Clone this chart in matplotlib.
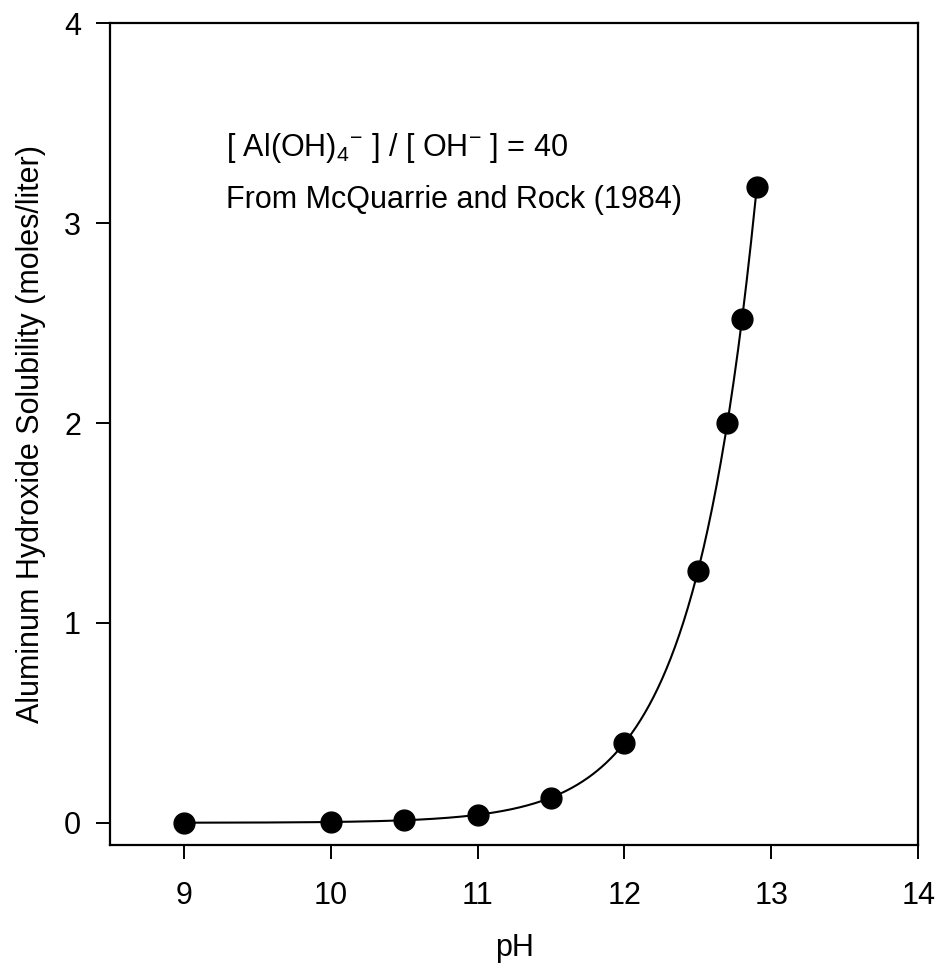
import numpy as np
import matplotlib
matplotlib.use("Agg")
import matplotlib.pyplot as plt

plt.rcParams['font.family'] = ['Liberation Sans', 'DejaVu Sans']
plt.rcParams['mathtext.fontset'] = 'custom'
plt.rcParams['mathtext.rm'] = 'Liberation Sans'
plt.rcParams['mathtext.it'] = 'Liberation Sans'

# Measured solubility values
ph = [9.0, 10.0, 10.5, 11.0, 11.5, 12.0, 12.5, 12.7, 12.8, 12.9]
solubility = [0.0004, 0.004, 0.0126, 0.04, 0.126, 0.40, 1.26, 2.00, 2.52, 3.18]

x_ticks = [9, 10, 11, 12, 13, 14]
y_ticks = [0, 1, 2, 3, 4]

fig = plt.figure(figsize=(9.41, 9.71), dpi=100)
ax = fig.add_axes([0.117, 0.130, 0.859, 0.846])

# Smooth curve: linear in log(solubility) between measured points
xs = np.linspace(ph[0], ph[-1], 400)
ys = 10 ** np.interp(xs, ph, np.log10(solubility))
ax.plot(xs, ys, color='black', lw=1.5, zorder=2)
ax.plot(ph, solubility, 'o', color='black', ms=15, zorder=3)

ax.set_xlim(8.5, 14)
ax.set_ylim(-0.11, 4)
ax.set_xticks(x_ticks)
ax.set_yticks(y_ticks)
ax.tick_params(direction='out', length=10, width=1.4, labelsize=22, colors='black')
ax.tick_params(axis='x', pad=16)
ax.tick_params(axis='y', pad=11)

for s in ax.spines.values():
    s.set_linewidth(1.6)

ax.set_xlabel('pH', fontsize=22, labelpad=16)
ax.set_ylabel('Aluminum Hydroxide Solubility (moles/liter)', fontsize=22, labelpad=13)

ax.text(0.143, 0.839, r'[ Al(OH)$_4{}^{\mathregular{-}}$ ] / [ OH$^{\mathregular{-}}$ ] = 40',
        transform=ax.transAxes, fontsize=22, va='baseline')
ax.text(0.143, 0.775, 'From McQuarrie and Rock (1984)',
        transform=ax.transAxes, fontsize=22, va='baseline')

fig.savefig('out.png', dpi=100)
